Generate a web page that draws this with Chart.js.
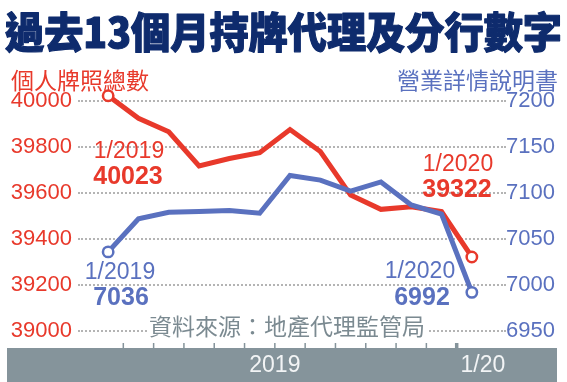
<!DOCTYPE html>
<html><head><meta charset="utf-8">
<script src="https://cdn.jsdelivr.net/npm/chart.js@4.4.1/dist/chart.umd.min.js"></script>
<style>
html,body{margin:0;padding:0;background:#fff;overflow:hidden}
#wrap{width:567px;height:382px;position:relative;background:#fff}
#grid{position:absolute;left:0;top:0;width:567px;height:382px;z-index:0}
#c{position:absolute;left:0;top:0;z-index:1}
.gl{position:absolute;height:0;border-top:2px dotted #b4b4b4}
</style>
</head><body><div id="wrap"><div id="grid"></div><canvas id="c" width="567" height="382"></canvas></div>
<script>
const categories = ['1/2019','2/2019','3/2019','4/2019','5/2019','6/2019','7/2019','8/2019','9/2019','10/2019','11/2019','12/2019','1/2020'];
const licenceTotals = [40023, 39925, 39866, 39718, 39750, 39775, 39876, 39780, 39591, 39529, 39540, 39519, 39322];
const statementCounts = [7036, 7072, 7079, 7080, 7081, 7078, 7119, 7114, 7102, 7112, 7087, 7077, 6992];
const leftTicks = [39000, 39200, 39400, 39600, 39800, 40000];
const rightTicks = [6950, 7000, 7050, 7100, 7150, 7200];
const bandLabels = ['2019', '1/20'];
const titleText = '過去13個月持牌代理及分行數字';
const leftName = '個人牌照總數';
const rightName = '營業詳情說明書';
const sourceText = '資料來源：地產代理監管局';

const RED = '#e8392b', BLUE = '#5a71bf', NAVY = '#0e2b6d', GRAY = '#85949b';
const LAT = '"Liberation Sans", Arial, sans-serif';
const CJK = '"Noto Sans CJK TC", "Noto Sans CJK SC", sans-serif';
const last = categories.length - 1;

const deco = {
  id: 'deco',
  beforeDatasetsDraw(chart) {
    const ctx = chart.ctx, x = chart.scales.x;
    ctx.save();
    ctx.font = '23px ' + CJK;
    const w = ctx.measureText(sourceText).width;
    const cx = 287, sy = 326;
    ctx.fillStyle = '#fff'; ctx.fillRect(cx - w / 2 - 2, sy - 14, w + 4, 28);
    ctx.fillStyle = '#7b8a91'; ctx.textAlign = 'center'; ctx.textBaseline = 'middle';
    ctx.fillText(sourceText, cx, sy);
    ctx.fillStyle = GRAY;
    ctx.fillRect(7, 348, 550, 34);
    for (let i = 0; i < last; i++) {
      const bx = (x.getPixelForValue(i) + x.getPixelForValue(i + 1)) / 2;
      const tw = i === last - 1 ? 3.5 : 1.5;
      ctx.fillRect(bx - tw / 2, 343, tw, 6);
    }
    ctx.fillStyle = '#f2f4f5'; ctx.font = '23px ' + LAT;
    ctx.fillText(bandLabels[0], (x.getPixelForValue(0) + x.getPixelForValue(last - 1)) / 2, 366);
    ctx.fillText(bandLabels[1], x.getPixelForValue(last) + 11, 366);
    ctx.restore();
  },
  afterDraw(chart) {
    const ctx = chart.ctx;
    ctx.save();
    ctx.textAlign = 'center'; ctx.textBaseline = 'middle';
    function ann(color, label, value, lx, ly, vx, vy) {
      ctx.fillStyle = color;
      ctx.font = '23px ' + LAT; ctx.fillText(label, lx, ly);
      ctx.font = 'bold 25px ' + LAT; ctx.fillText(String(value), vx, vy);
    }
    ann(RED, categories[0], licenceTotals[0], 129, 152, 128, 177.5);
    ann(RED, categories[last], licenceTotals[last], 458, 164.5, 457, 190);
    ann(BLUE, categories[0], statementCounts[0], 120, 273, 121, 298);
    ann(BLUE, categories[last], statementCounts[last], 420, 272, 422, 298);
    ctx.textAlign = 'left';
    ctx.font = '900 42px ' + CJK;
    const tw = ctx.measureText(titleText).width;
    ctx.save();
    ctx.translate(5, 32);
    ctx.scale(557 / tw, 1);
    ctx.fillStyle = NAVY;
    ctx.strokeStyle = NAVY; ctx.lineWidth = 1.2; ctx.lineJoin = 'round';
    ctx.strokeText(titleText, 0, 0);
    ctx.fillText(titleText, 0, 0);
    ctx.restore();
    ctx.font = '23px ' + CJK;
    ctx.fillStyle = RED; ctx.fillText(leftName, 11, 80);
    ctx.textAlign = 'right';
    ctx.fillStyle = BLUE; ctx.fillText(rightName, 558, 80);
    ctx.restore();
  }
};

const endRadius = c => (c.dataIndex === 0 || c.dataIndex === last) ? 5.2 : 0;

const chart = new Chart(document.getElementById('c'), {
  type: 'line',
  data: {
    labels: categories,
    datasets: [
      { data: licenceTotals, yAxisID: 'yL', borderColor: RED, borderWidth: 5, order: 2,
        pointRadius: endRadius, pointBackgroundColor: '#fff', pointBorderColor: RED, pointBorderWidth: 2.5,
        tension: 0, clip: false },
      { data: statementCounts, yAxisID: 'yR', borderColor: BLUE, borderWidth: 5, order: 1,
        pointRadius: endRadius, pointBackgroundColor: '#fff', pointBorderColor: BLUE, pointBorderWidth: 2.5,
        tension: 0, clip: false }
    ]
  },
  options: {
    responsive: false, animation: false, devicePixelRatio: 1,
    layout: { padding: { top: 101, bottom: 51, left: 0, right: 0 } },
    plugins: { legend: { display: false }, tooltip: { enabled: false } },
    scales: {
      x: { type: 'category', offset: true, display: false },
      yL: { position: 'left', min: leftTicks[0], max: leftTicks[leftTicks.length - 1],
        afterBuildTicks: s => { s.ticks = leftTicks.map(v => ({ value: v })); },
        afterFit: s => { s.width = 93; },
        grid: { display: false, drawTicks: false }, border: { display: false },
        ticks: { color: RED, padding: 21, font: { family: LAT, size: 22 }, callback: v => String(v) } },
      yR: { position: 'right', min: rightTicks[0], max: rightTicks[rightTicks.length - 1],
        afterBuildTicks: s => { s.ticks = rightTicks.map(v => ({ value: v })); },
        afterFit: s => { s.width = 80; },
        grid: { display: false, drawTicks: false }, border: { display: false },
        ticks: { color: BLUE, padding: 19, font: { family: LAT, size: 22 }, callback: v => String(v) } }
    }
  },
  plugins: [deco]
});

// dotted gridlines placed behind the transparent chart canvas, at the left scale's tick pixels
const gridBox = document.getElementById('grid');
leftTicks.forEach(v => {
  const y = Math.round(chart.scales.yL.getPixelForValue(v));
  const d = document.createElement('div');
  d.className = 'gl';
  d.style.left = '78px';
  d.style.width = '428px';
  d.style.top = (y - 1) + 'px';
  gridBox.appendChild(d);
});
</script></body></html>
